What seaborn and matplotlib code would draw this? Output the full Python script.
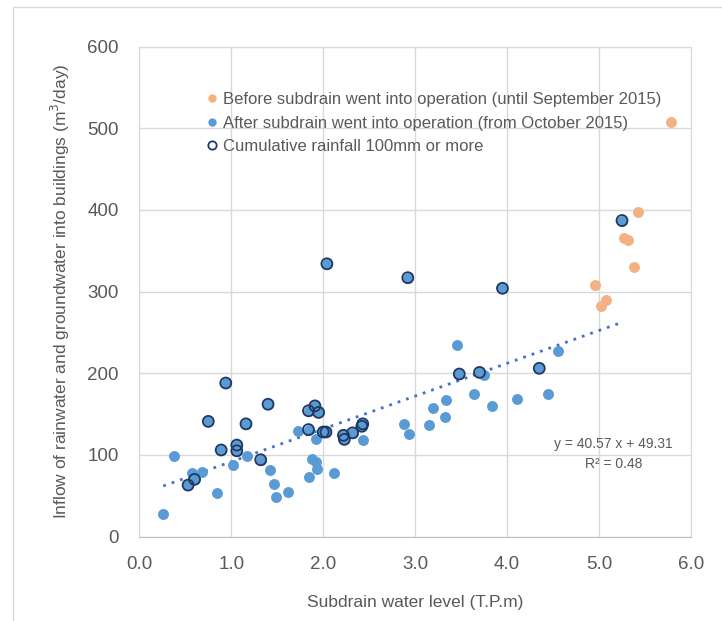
import seaborn as sns
import matplotlib.pyplot as plt
import pandas as pd
from matplotlib.lines import Line2D
from matplotlib.patches import Rectangle

# before subdrain went into operation (until Sep 2015)
before_level = [5.78, 5.42, 5.27, 5.32, 5.38, 4.96, 5.08, 5.02]
before_inflow = [508, 398, 366, 363, 330, 308, 290, 282]

# after subdrain went into operation, days with cumulative rainfall >= 100mm
rain_level = [5.25, 2.04, 2.92, 3.95, 3.48, 3.70, 4.35, 0.94, 1.40, 0.75,
              1.16, 1.84, 1.91, 1.95, 1.84, 2.00, 2.03, 2.22, 2.23, 2.32,
              2.42, 2.43, 0.89, 1.06, 1.06, 1.32, 0.53, 0.60]
rain_inflow = [387, 334, 317, 304, 199, 201, 206, 188, 162, 141,
               138, 154, 160, 152, 131, 128, 128, 124, 119, 127,
               135, 138, 106, 112, 105, 94, 63, 70]

# after subdrain went into operation, other days
dry_level = [3.46, 4.55, 3.75, 3.64, 3.34, 3.19, 3.84, 4.11, 4.45, 3.32,
             2.88, 3.15, 2.93, 1.73, 1.92, 2.43, 0.38, 1.17, 1.02, 1.88,
             1.92, 1.93, 2.12, 1.84, 1.42, 0.57, 0.68, 0.85, 1.47, 1.49,
             1.62, 0.26]
dry_inflow = [234, 227, 198, 174, 167, 157, 160, 169, 175, 147,
              138, 136, 125, 129, 120, 118, 99, 99, 88, 95,
              91, 83, 78, 73, 81, 78, 79, 53, 64, 48,
              54, 27]

equation = "y = 40.57 x + 49.31\nR\u00b2 = 0.48"

before = pd.DataFrame({"level": before_level, "inflow": before_inflow})
after = pd.DataFrame({"level": rain_level + dry_level,
                      "inflow": rain_inflow + dry_inflow})
rain = pd.DataFrame({"level": rain_level, "inflow": rain_inflow})

sns.set_style("white")
plt.rcParams["font.family"] = ["Liberation Sans", "DejaVu Sans"]

orange = "#F4B183"
blue = "#5B9BD5"
navy = "#1F3864"
grey_txt = "#595959"

fig = plt.figure(figsize=(7.22, 6.21), dpi=100)
ax = fig.add_axes([0.193, 0.136, 0.764, 0.789])

# outer chart border
fig.patches.append(Rectangle((0.018, -0.5), 2, 1.4887, transform=fig.transFigure,
                             fill=False, edgecolor="#D9D9D9", linewidth=1))

sns.scatterplot(data=before, x="level", y="inflow", ax=ax, color=orange,
                s=62, linewidth=0, zorder=3)
sns.scatterplot(data=after, x="level", y="inflow", ax=ax, color=blue,
                s=62, linewidth=0, zorder=3)
sns.scatterplot(data=rain, x="level", y="inflow", ax=ax, facecolor="none",
                edgecolor=navy, s=62, linewidth=1.3, zorder=4)

sns.regplot(data=after, x="level", y="inflow", ax=ax, scatter=False, ci=None,
            line_kws={"color": "#4472C4", "linestyle": (0, (1, 2.2)),
                      "linewidth": 2, "zorder": 2})

ax.text(5.16, 101, equation, ha="center", va="center", fontsize=10,
        color=grey_txt, linespacing=1.5)

ax.set_xlim(0, 6)
ax.set_ylim(0, 600)
ax.set_xticks([0, 1, 2, 3, 4, 5, 6])
ax.set_xticklabels([f"{v:.1f}" for v in [0, 1, 2, 3, 4, 5, 6]])
ax.set_yticks(range(0, 601, 100))
ax.grid(True, color="#D9D9D9", linewidth=1)
ax.set_axisbelow(True)
for sp in ax.spines.values():
    sp.set_color("#D9D9D9")
ax.spines["bottom"].set_color("#BFBFBF")
ax.tick_params(length=0, labelsize=13.5, labelcolor=grey_txt)
ax.tick_params(axis="x", pad=14)
ax.tick_params(axis="y", pad=15)

ax.set_xlabel("Subdrain water level (T.P.m)", fontsize=12.5, color=grey_txt,
              labelpad=16)
ax.set_ylabel("Inflow of rainwater and groundwater into buildings (m$^3$/day)",
              fontsize=12.5, color=grey_txt, labelpad=11)

handles = [
    Line2D([], [], marker="o", linestyle="", color=orange, markersize=6,
           markeredgewidth=0),
    Line2D([], [], marker="o", linestyle="", color=blue, markersize=6,
           markeredgewidth=0),
    Line2D([], [], marker="o", linestyle="", markerfacecolor="none",
           markeredgecolor=navy, markersize=6, markeredgewidth=1.3),
]
labels = ["Before subdrain went into operation (until September 2015)",
          "After subdrain went into operation (from October 2015)",
          "Cumulative rainfall 100mm or more"]
leg = ax.legend(handles, labels, loc="upper left", bbox_to_anchor=(0.104, 0.921),
                frameon=False, fontsize=12, handletextpad=0.2,
                handlelength=1.0, labelspacing=0.52, borderaxespad=0)
for t in leg.get_texts():
    t.set_color(grey_txt)

fig.savefig("out.png", dpi=100, facecolor="white")
